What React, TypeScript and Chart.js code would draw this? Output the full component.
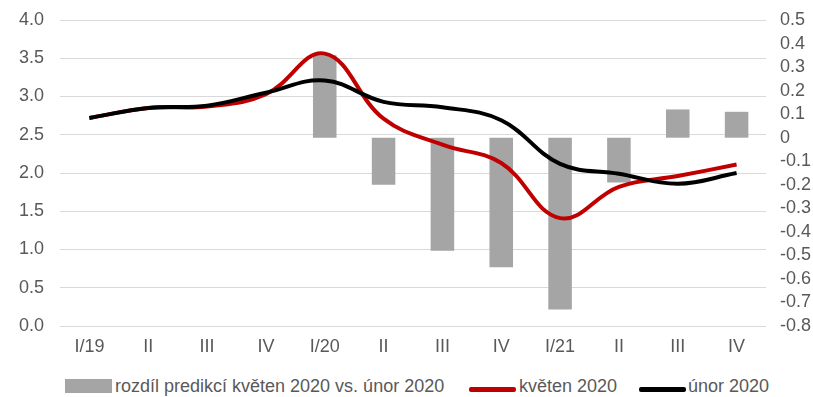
import { useEffect, useRef } from 'react';
import { Chart, registerables } from 'chart.js';

Chart.register(...registerables);

// Quarterly forecast comparison (left axis: %, right axis: difference in p.p.)
const quarters = ['I/19', 'II', 'III', 'IV', 'I/20', 'II', 'III', 'IV', 'I/21', 'II', 'III', 'IV'];
const forecastMay = [2.72, 2.85, 2.87, 3.03, 3.56, 2.71, 2.37, 2.13, 1.41, 1.82, 1.96, 2.11];
const forecastFeb = [2.72, 2.85, 2.88, 3.05, 3.21, 2.93, 2.86, 2.69, 2.12, 1.99, 1.86, 2.0];
const forecastDiff = [0, 0, 0, 0, 0.35, -0.2, -0.48, -0.55, -0.73, -0.19, 0.12, 0.11];

const labelDiff = 'rozdíl predikcí květen 2020 vs. únor 2020';
const labelMay = 'květen 2020';
const labelFeb = 'únor 2020';

const FONT = '"Liberation Sans", Arial, sans-serif';
const TEXT = '#595959';
const RED = '#C00000';
const BLACK = '#000000';
const GREY = '#A5A5A5';
const GRID = '#D9D9D9';

export default function App() {
  const canvasRef = useRef<HTMLCanvasElement | null>(null);

  useEffect(() => {
    const canvas = canvasRef.current;
    if (!canvas) return;
    const chart = new Chart(canvas, {
      data: {
        labels: quarters,
        datasets: [
          {
            type: 'line',
            label: labelFeb,
            data: forecastFeb,
            yAxisID: 'y',
            borderColor: BLACK,
            borderWidth: 4,
            pointRadius: 0,
            tension: 0.4,
            order: 0,
          },
          {
            type: 'line',
            label: labelMay,
            data: forecastMay,
            yAxisID: 'y',
            borderColor: RED,
            borderWidth: 4,
            pointRadius: 0,
            tension: 0.4,
            order: 1,
          },
          {
            type: 'bar',
            label: labelDiff,
            data: forecastDiff,
            yAxisID: 'y1',
            backgroundColor: GREY,
            borderWidth: 0,
            barPercentage: 0.4,
            categoryPercentage: 1,
            order: 2,
          },
        ],
      } as any,
      options: {
        animation: false,
        responsive: false,
        maintainAspectRatio: false,
        layout: { padding: { top: 20, left: 0, right: 0, bottom: 0 } },
        plugins: {
          legend: { display: false },
          tooltip: { enabled: false },
        },
        scales: {
          x: {
            grid: { display: false, drawTicks: false },
            border: { display: false },
            ticks: {
              color: TEXT,
              font: { family: FONT, size: 18 },
              padding: 10,
              maxRotation: 0,
              autoSkip: false,
            },
            afterFit: (s: any) => {
              s.height = 36;
            },
          },
          y: {
            position: 'left',
            min: 0,
            max: 4,
            ticks: {
              stepSize: 0.5,
              autoSkip: false,
              color: TEXT,
              font: { family: FONT, size: 18 },
              padding: 16,
              callback: (v: any) => Number(v).toFixed(1),
            },
            grid: { color: GRID, lineWidth: 1, drawTicks: false },
            border: { display: false },
            afterFit: (s: any) => {
              s.width = 60;
              s.paddingTop = 0;
              s.paddingBottom = 0;
            },
          },
          y1: {
            position: 'right',
            min: -0.8,
            max: 0.5,
            ticks: {
              stepSize: 0.1,
              maxTicksLimit: 20,
              autoSkip: false,
              color: TEXT,
              font: { family: FONT, size: 18 },
              padding: 14,
              callback: (v: any) => {
                const r = Math.round(Number(v) * 10) / 10;
                return r === 0 ? '0' : r.toFixed(1);
              },
            },
            grid: { display: false, drawTicks: false },
            border: { display: false },
            afterFit: (s: any) => {
              s.width = 47;
              s.paddingTop = 0;
              s.paddingBottom = 0;
            },
          },
        },
      } as any,
    });
    return () => chart.destroy();
  }, []);

  const textStyle: React.CSSProperties = {
    position: 'absolute',
    top: 376,
    fontFamily: FONT,
    fontSize: 18,
    lineHeight: '21px',
    color: TEXT,
    whiteSpace: 'nowrap',
  };

  return (
    <div
      style={{
        position: 'fixed',
        left: 0,
        top: 0,
        width: 813,
        height: 397,
        background: '#ffffff',
        overflow: 'hidden',
      }}
    >
      <canvas ref={canvasRef} width={813} height={362} style={{ display: 'block' }} />
      <div style={{ position: 'absolute', left: 65, top: 379, width: 47, height: 14, background: GREY }} />
      <span style={{ ...textStyle, left: 115 }}>{labelDiff}</span>
      <div style={{ position: 'absolute', left: 469, top: 387, width: 47, height: 5, background: RED, borderRadius: 2 }} />
      <span style={{ ...textStyle, left: 519 }}>{labelMay}</span>
      <div style={{ position: 'absolute', left: 639, top: 387, width: 47, height: 5, background: BLACK, borderRadius: 2 }} />
      <span style={{ ...textStyle, left: 688 }}>{labelFeb}</span>
    </div>
  );
}
